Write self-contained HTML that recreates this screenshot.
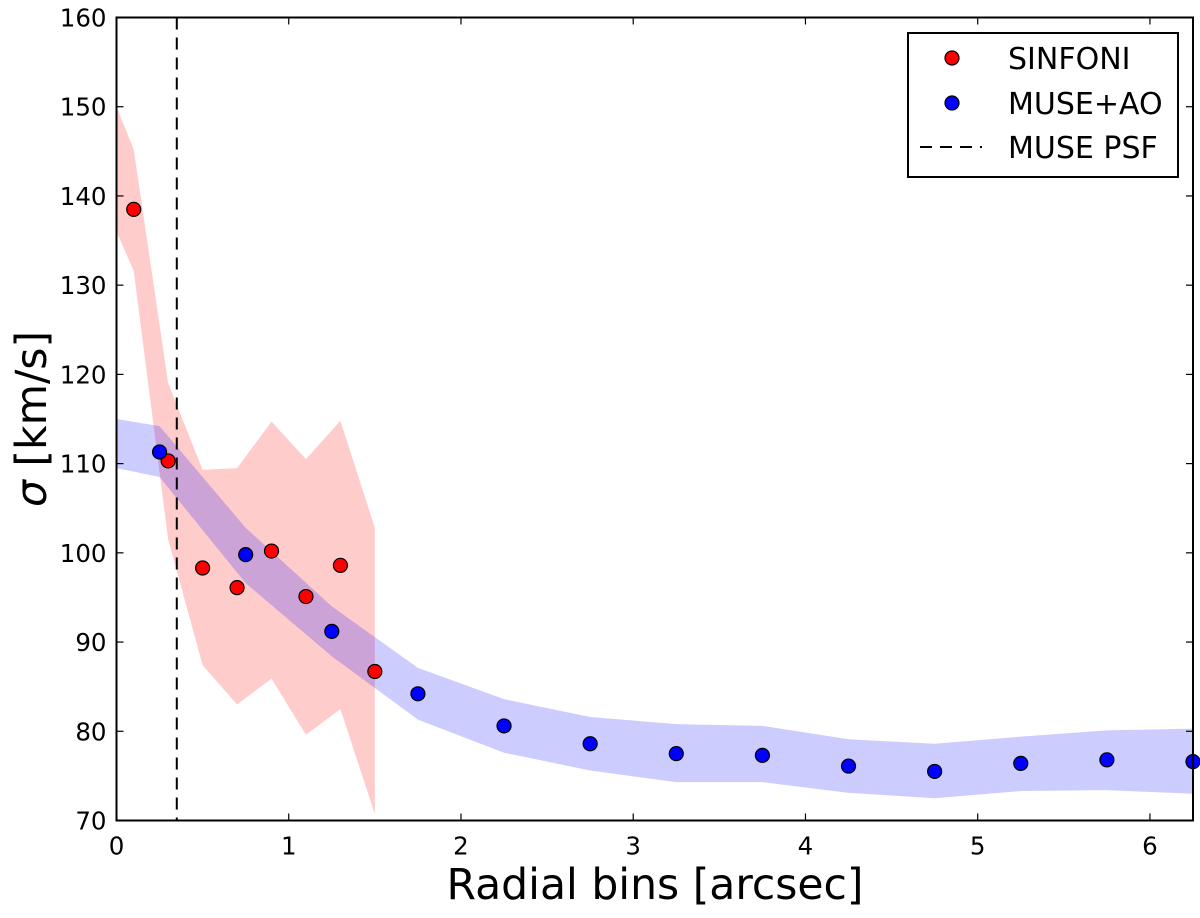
<!DOCTYPE html>
<html><head><meta charset="utf-8"><style>
body{margin:0;background:#fff}
svg text{font-family:"DejaVu Sans","Liberation Sans",sans-serif;fill:#000}
</style></head><body>
<svg id="chart" width="1200" height="913" viewBox="0 0 1200 913" xmlns="http://www.w3.org/2000/svg">
<g id="bands"></g><g id="lines"></g><g id="points"></g><g id="axes"></g>
</svg>
<script>
const sinX=[0,0.1,0.3,0.5,0.7,0.9,1.1,1.3,1.5];
const sinUp=[150,145.2,119,109.3,109.5,114.7,110.5,114.8,102.8];
const sinLo=[136,131.6,101.5,87.4,83,85.9,79.6,82.5,70.7];
const sinPtX=[0.1,0.3,0.5,0.7,0.9,1.1,1.3,1.5];
const sinPtY=[138.5,110.3,98.3,96.1,100.2,95.1,98.6,86.7];
const museX=[0,0.25,0.75,1.25,1.75,2.25,2.75,3.25,3.75,4.25,4.75,5.25,5.75,6.25];
const museUp=[115,114.2,102.8,94,87.1,83.6,81.6,80.8,80.6,79.1,78.6,79.4,80.1,80.3];
const museLo=[109.5,108.5,96.6,88.4,81.3,77.6,75.6,74.3,74.3,73.1,72.5,73.3,73.4,73];
const musePtX=[0.25,0.75,1.25,1.75,2.25,2.75,3.25,3.75,4.25,4.75,5.25,5.75,6.25];
const musePtY=[111.3,99.8,91.2,84.2,80.6,78.6,77.5,77.3,76.1,75.5,76.4,76.8,76.6];
const psfX=0.35;
const xTicks=[0,1,2,3,4,5,6];
const yTicks=[70,80,90,100,110,120,130,140,150,160];
const L=116.5,R=1193,T=17.5,B=820.5,x0=0,x1=6.25,y0=70,y1=160;
const X=v=>L+(v-x0)/(x1-x0)*(R-L);
const Y=v=>B-(v-y0)/(y1-y0)*(B-T);
const NS='http://www.w3.org/2000/svg';
function mk(tag,attrs,parent){const e=document.createElementNS(NS,tag);for(const k in attrs)e.setAttribute(k,attrs[k]);document.getElementById(parent).appendChild(e);return e;}
function band(xs,up,lo,color,name){
  let pts=xs.map((x,i)=>X(x)+','+Y(up[i]));
  for(let i=xs.length-1;i>=0;i--)pts.push(X(xs[i])+','+Y(lo[i]));
  const p=mk('polygon',{points:pts.join(' '),fill:color,stroke:'none'},'bands');
  
  
}
band(sinX,sinUp,sinLo,'rgba(255,0,0,0.2)','sinfoni-error-band');
band(museX,museUp,museLo,'rgba(0,0,255,0.2)','muse-error-band');
const psf=mk('line',{x1:X(psfX),x2:X(psfX),y1:T,y2:B,stroke:'#000','stroke-width':2,'stroke-dasharray':'12,8'},'lines');


function pts(xs,ys,color,name){
  xs.forEach((x,i)=>{
    const c=mk('circle',{cx:X(x),cy:Y(ys[i]),r:7,fill:color,stroke:'#000','stroke-width':1.2},'points');
    
    
  });
}
pts(sinPtX,sinPtY,'#f00','sinfoni-point');
pts(musePtX,musePtY,'#00f','muse-point');
const frame=mk('rect',{x:L,y:T,width:R-L,height:B-T,fill:'none',stroke:'#000','stroke-width':2},'axes');


xTicks.forEach(v=>{
  const x=X(v);
  mk('line',{x1:x,x2:x,y1:B,y2:B-7,stroke:'#000','stroke-width':1.2},'axes');
  mk('line',{x1:x,x2:x,y1:T,y2:T+7,stroke:'#000','stroke-width':1.2},'axes');
  const t=mk('text',{x:x,y:B+34,'text-anchor':'middle','font-size':24.5},'axes');
  t.textContent=v;
  
  
});
yTicks.forEach(v=>{
  const y=Y(v);
  mk('line',{x1:L,x2:L+7,y1:y,y2:y,stroke:'#000','stroke-width':1.2},'axes');
  mk('line',{x1:R,x2:R-7,y1:y,y2:y,stroke:'#000','stroke-width':1.2},'axes');
  const t=mk('text',{x:L-10,y:y+9,'text-anchor':'end','font-size':24.5},'axes');
  t.textContent=v;
  
  
});
</script>
<svg style="position:absolute;left:0;top:0" width="1200" height="913">
<text x="655" y="899" text-anchor="middle" font-size="42.5">Radial bins [arcsec]</text>
<text transform="translate(46,419) rotate(-90)" text-anchor="middle" font-size="42.5"><tspan font-style="italic">σ</tspan> [km/s]</text>
<g>
<rect x="908" y="33" width="270" height="144" fill="#fff" stroke="#000" stroke-width="2"/>
<circle cx="952" cy="58" r="7" fill="#f00" stroke="#000" stroke-width="1.2"/>
<text x="1008" y="69" font-size="30">SINFONI</text>
<circle cx="952" cy="103" r="7" fill="#00f" stroke="#000" stroke-width="1.2"/>
<text x="1008" y="114" font-size="30">MUSE+AO</text>
<line x1="920" x2="982" y1="147" y2="147" stroke="#000" stroke-width="2" stroke-dasharray="12,8"/>
<text x="1008" y="158" font-size="30">MUSE PSF</text>
</g>
</svg>
</body></html>
